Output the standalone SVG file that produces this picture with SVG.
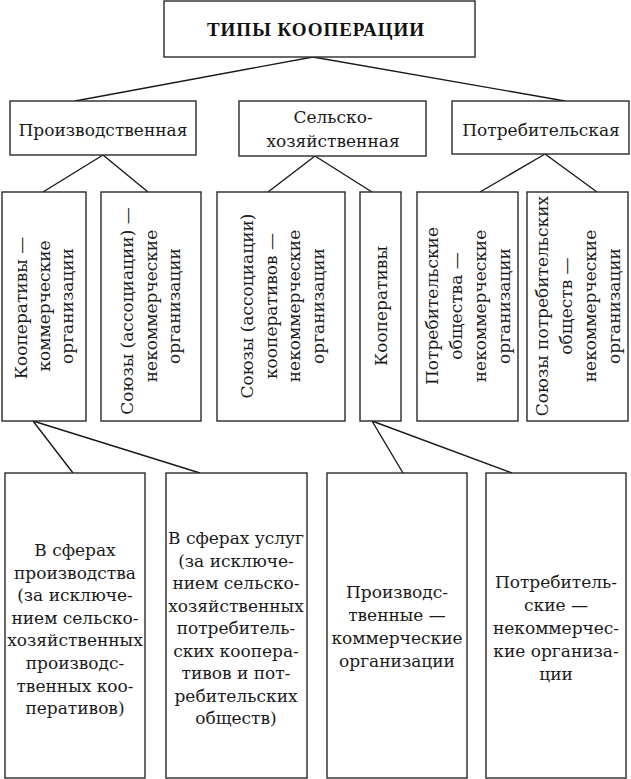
<svg xmlns="http://www.w3.org/2000/svg" width="631" height="779" viewBox="0 0 631 779">
<style>
.box{fill:#fff;stroke:#2a2a2a;stroke-width:1.4}
.ln{stroke:#1a1a1a;stroke-width:1.4;fill:none}
.t{font-family:"DejaVu Serif","Liberation Serif",serif;font-size:17px;fill:#1a1a1a;text-anchor:middle}
.title{font-family:"Liberation Serif",serif;font-size:19px;font-weight:bold;letter-spacing:1px;fill:#111;text-anchor:middle}
</style>
<rect width="631" height="779" fill="#fff"/>
<g id="connectors">
<path class="ln" d="M313,57 L75,101 M313,57 L565,101"/>
<path class="ln" d="M103,155 L43,192 M103,155 L148,192"/>
<path class="ln" d="M315,156 L268,192 M315,156 L372,192"/>
<path class="ln" d="M545,154 L480,192 M545,154 L597,192"/>
<path class="ln" d="M33,421 L73,473 M33,421 L200,473"/>
<path class="ln" d="M372,421 L403,473 M372,421 L512,473"/>
</g>
<g id="title"><rect class="box" x="164" y="1" width="311" height="56"/><text class="title" x="316" y="36">ТИПЫ КООПЕРАЦИИ</text></g>
<g id="proizv"><rect class="box" x="10" y="101" width="186" height="54"/><text class="t" x="103" y="136">Производственная</text></g>
<g id="selsko"><rect class="box" x="239" y="101" width="187" height="55"/><text class="t" x="333" y="123">Сельско-</text><text class="t" x="333" y="147">хозяйственная</text></g>
<g id="potreb"><rect class="box" x="452" y="101" width="177" height="53"/><text class="t" x="541" y="136">Потребительская</text></g>
<g id="boxA"><rect class="box" x="2" y="192" width="84" height="229"/>
<text class="t" transform="translate(27,308) rotate(-90)">Кооперативы —</text>
<text class="t" transform="translate(50,306) rotate(-90)">коммерческие</text>
<text class="t" transform="translate(73,306) rotate(-90)">организации</text></g>
<g id="boxB"><rect class="box" x="101" y="192" width="100" height="229"/>
<text class="t" transform="translate(133,311) rotate(-90)">Союзы (ассоциации) —</text>
<text class="t" transform="translate(157,306) rotate(-90)">некоммерческие</text>
<text class="t" transform="translate(180,306) rotate(-90)">организации</text></g>
<g id="boxC"><rect class="box" x="217" y="192" width="128" height="229"/>
<text class="t" transform="translate(253,306) rotate(-90)">Союзы (ассоциации)</text>
<text class="t" transform="translate(277,306) rotate(-90)">кооперативов —</text>
<text class="t" transform="translate(300,306) rotate(-90)">некоммерческие</text>
<text class="t" transform="translate(324,306) rotate(-90)">организации</text></g>
<g id="boxD"><rect class="box" x="360" y="192" width="41" height="229"/>
<text class="t" transform="translate(387,306) rotate(-90)">Кооперативы</text></g>
<g id="boxE"><rect class="box" x="417" y="192" width="101" height="229"/>
<text class="t" transform="translate(438,306) rotate(-90)">Потребительские</text>
<text class="t" transform="translate(462,306) rotate(-90)">общества —</text>
<text class="t" transform="translate(486,306) rotate(-90)">некоммерческие</text>
<text class="t" transform="translate(510,306) rotate(-90)">организации</text></g>
<g id="boxF"><rect class="box" x="527" y="192" width="101" height="229"/>
<text class="t" transform="translate(548,306) rotate(-90)">Союзы потребительских</text>
<text class="t" transform="translate(572,306) rotate(-90)">обществ —</text>
<text class="t" transform="translate(596,306) rotate(-90)">некоммерческие</text>
<text class="t" transform="translate(620,306) rotate(-90)">организации</text></g>
<g id="boxG"><rect class="box" x="5" y="473" width="140" height="305"/>
<text class="t" x="75" y="556">В сферах</text>
<text class="t" x="75" y="579">производства</text>
<text class="t" x="75" y="601">(за исключе-</text>
<text class="t" x="75" y="624">нием сельско-</text>
<text class="t" x="75" y="646">хозяйственных</text>
<text class="t" x="75" y="669">производс-</text>
<text class="t" x="75" y="692">твенных коо-</text>
<text class="t" x="75" y="714">перативов)</text></g>
<g id="boxH"><rect class="box" x="166" y="473" width="141" height="305"/>
<text class="t" x="236" y="544">В сферах услуг</text>
<text class="t" x="236" y="567">(за исключе-</text>
<text class="t" x="236" y="589">нием сельско-</text>
<text class="t" x="236" y="612">хозяйственных</text>
<text class="t" x="236" y="634">потребитель-</text>
<text class="t" x="236" y="657">ских коопера-</text>
<text class="t" x="236" y="679">тивов и пот-</text>
<text class="t" x="236" y="702">ребительских</text>
<text class="t" x="236" y="724">обществ)</text></g>
<g id="boxI"><rect class="box" x="327" y="473" width="140" height="305"/>
<text class="t" x="397" y="598">Производс-</text>
<text class="t" x="397" y="621">твенные —</text>
<text class="t" x="397" y="644">коммерческие</text>
<text class="t" x="397" y="667">организации</text></g>
<g id="boxJ"><rect class="box" x="486" y="473" width="140" height="305"/>
<text class="t" x="556" y="588">Потребитель-</text>
<text class="t" x="556" y="611">ские —</text>
<text class="t" x="556" y="634">некоммерчес-</text>
<text class="t" x="556" y="657">кие организа-</text>
<text class="t" x="556" y="680">ции</text></g>
</svg>
